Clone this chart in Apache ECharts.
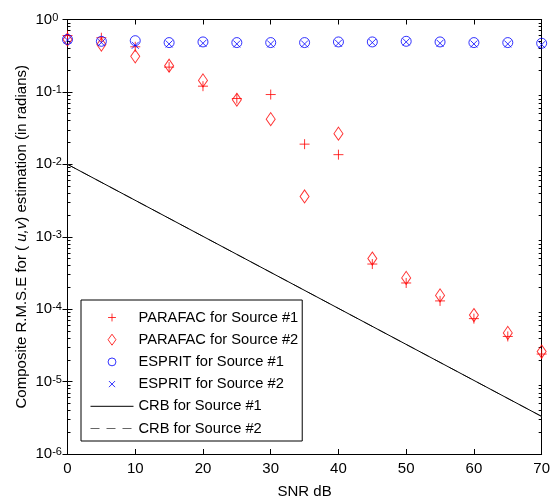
<!DOCTYPE html>
<html><head><meta charset="utf-8">
<script src="https://cdn.jsdelivr.net/npm/echarts@6/dist/echarts.min.js"></script>
<style>html,body{margin:0;padding:0;background:#fff}#c{width:553px;height:504px}</style>
</head><body><div id="c"></div>
<script>
var snr = [0,5,10,15,20,25,30,35,40,45,50,55,60,65,70];
var parafac1 = [0.60,0.56,0.42,0.22,0.12,0.081,0.092,0.019,0.0136,4.2e-4,2.3e-4,1.3e-4,7.4e-5,4.2e-5,2.4e-5];
var parafac2 = [0.53,0.45,0.31,0.23,0.144,0.078,0.042,3.6e-3,0.0265,5.0e-4,2.7e-4,1.55e-4,8.3e-5,4.7e-5,2.6e-5];
var esprit1 = [0.53,0.50,0.51,0.48,0.49,0.48,0.48,0.48,0.49,0.49,0.50,0.49,0.48,0.48,0.47];
var esprit2 = [0.52,0.48,0.44,0.46,0.47,0.46,0.46,0.46,0.47,0.48,0.49,0.47,0.46,0.46,0.45];
var crbSnr = [0,70];
var crb1 = [1.0e-2,3.3e-6];
var crb2 = [1.0e-2,3.3e-6];
var xTicks = [0,10,20,30,40,50,60,70];
var yMajor = [1e-6,1e-5,1e-4,1e-3,1e-2,1e-1,1];
var names = ['PARAFAC for Source #1','PARAFAC for Source #2','ESPRIT for Source #1','ESPRIT for Source #2','CRB for Source #1','CRB for Source #2'];

var yMinor = [];
for (var d = -6; d < 0; d++) for (var k = 2; k <= 9; k++) yMinor.push(k * Math.pow(10, d));

var FONT = 'Liberation Sans, Arial, sans-serif';
var plusPath = 'path://M5,0L5,10M0,5L10,5';
var crossPath = 'path://M0,0L10,10M10,0L0,10';
var diamondPath = 'path://M5,0L10,7L5,14L0,7Z';
var circlePath = 'path://M0,5A5,5,0,1,1,10,5A5,5,0,1,1,0,5Z';
// legend icons: same glyphs with empty margin so they draw smaller
var plusIcon = 'path://M-2,-2M12,12M5,0L5,10M0,5L10,5';
var crossIcon = 'path://M-4,-4M14,14M0,0L10,10M10,0L0,10';
var circleIcon = 'path://M-2,-2M12,12M0,5A5,5,0,1,1,10,5A5,5,0,1,1,0,5Z';
var diamondIcon = 'path://M5,0L10,7L5,14L0,7Z';

function pairs(xs, ys){ return xs.map(function(x,i){ return [x, ys[i]]; }); }

function yAxisDef(pos, showLabel, ticks, len){
  return {
    type:'log', logBase:10, min:1e-6, max:1, position:pos,
    axisLine:{show:true, lineStyle:{color:'#000', width:1}},
    axisTick:{show:true, inside:true, length:len, customValues:ticks, lineStyle:{color:'#000'}},
    axisLabel:showLabel ? {
      show:true, customValues:yMajor, align:'left', margin:32, fontFamily:FONT, fontSize:15, color:'#000',
      formatter:function(v){ var e = Math.round(Math.log10(v)); return '{b|10}{s|' + e + '}'; },
      rich:{
        b:{fontSize:15, fontFamily:FONT, color:'#000', verticalAlign:'bottom', lineHeight:15},
        s:{fontSize:11, fontFamily:FONT, color:'#000', verticalAlign:'top', lineHeight:11, padding:[0,0,7,0]}
      }
    } : {show:false},
    splitLine:{show:false}
  };
}
function xAxisDef(pos, showLabel){
  return {
    type:'value', min:0, max:70, interval:10, position:pos,
    name: showLabel ? 'SNR dB' : '', nameLocation:'middle', nameGap:30, nameMoveOverlap:false,
    nameTextStyle:{fontFamily:FONT, fontSize:15, color:'#000'},
    axisLine:{show:true, onZero:false, lineStyle:{color:'#000', width:1}},
    axisTick:{show:true, inside:true, length:5, lineStyle:{color:'#000'}},
    axisLabel:showLabel ? {show:true, fontFamily:FONT, fontSize:15, color:'#000', margin:7,
      customValues:xTicks} : {show:false},
    splitLine:{show:false}
  };
}

var yAx = [yAxisDef('left', true, yMajor, 5), yAxisDef('right', false, yMajor, 5),
           yAxisDef('left', false, yMinor, 3), yAxisDef('right', false, yMinor, 3)];
yAx[0].name = '{n|Composite R.M.S.E for ( }{i|u,v}{n|) estimation (in radians)}';
yAx[0].nameLocation = 'middle';
yAx[0].nameGap = 38;
yAx[0].nameMoveOverlap = false;
yAx[0].nameTextStyle = {rich:{
  n:{fontFamily:FONT, fontSize:15, color:'#000'},
  i:{fontFamily:FONT, fontSize:15, color:'#000', fontStyle:'italic'}
}};

var option = {
  animation:false,
  backgroundColor:'#fff',
  grid:{left:67.5, right:10, top:19.5, bottom:46.5, containLabel:false},
  xAxis:[xAxisDef('bottom', true), xAxisDef('top', false)],
  yAxis:yAx,
  legend:{
    orient:'vertical', left:81, top:300,
    backgroundColor:'#fff', borderColor:'#000', borderWidth:1,
    padding:[10,4,5,9], itemWidth:43, itemHeight:11, itemGap:7.2,
    itemStyle:{borderWidth:1},
    lineStyle:{width:1},
    textStyle:{fontFamily:FONT, fontSize:14.7, lineHeight:15, color:'#000', padding:[0,0,0,0]},
    data:[
      {name:names[0], icon:plusIcon},
      {name:names[1], icon:diamondIcon},
      {name:names[2], icon:circleIcon},
      {name:names[3], icon:crossIcon},
      {name:names[4], itemStyle:{opacity:0, borderWidth:0}},
      {name:names[5], itemStyle:{opacity:0, borderWidth:0}}
    ]
  },
  series:[
    {name:names[5], type:'line', data:pairs(crbSnr, crb2), symbol:'none',
     lineStyle:{color:'#666', width:1, type:[9,7]}, itemStyle:{color:'rgba(0,0,0,0)'}, silent:true, z:1},
    {name:names[4], type:'line', data:pairs(crbSnr, crb1), symbol:'none',
     lineStyle:{color:'#000', width:1}, itemStyle:{color:'rgba(0,0,0,0)'}, silent:true, z:2},
    {name:names[0], type:'scatter', data:pairs(snr, parafac1), symbol:plusPath, symbolSize:10,
     itemStyle:{color:'rgba(0,0,0,0)', borderColor:'#ff0000', borderWidth:1}, silent:true, z:3},
    {name:names[1], type:'scatter', data:pairs(snr, parafac2), symbol:diamondPath, symbolSize:[9,13],
     itemStyle:{color:'rgba(0,0,0,0)', borderColor:'#ff0000', borderWidth:1}, silent:true, z:3},
    {name:names[2], type:'scatter', data:pairs(snr, esprit1), symbol:circlePath, symbolSize:10,
     itemStyle:{color:'rgba(0,0,0,0)', borderColor:'#0000ff', borderWidth:1}, silent:true, z:3},
    {name:names[3], type:'scatter', data:pairs(snr, esprit2), symbol:crossPath, symbolSize:7,
     itemStyle:{color:'rgba(0,0,0,0)', borderColor:'#0000ff', borderWidth:1}, silent:true, z:3}
  ]
};
var chart = echarts.init(document.getElementById('c'), null, {renderer:'canvas'});
chart.setOption(option);
</script></body></html>
